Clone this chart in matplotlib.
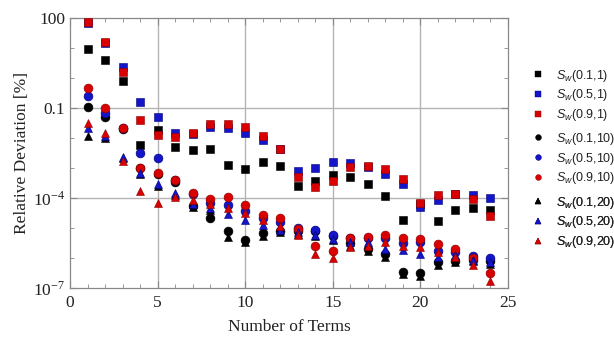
import matplotlib
matplotlib.use("Agg")
import matplotlib.pyplot as plt
from matplotlib.ticker import FixedLocator, NullFormatter
from matplotlib.lines import Line2D
import numpy as np

plt.rcParams["font.family"] = ["Liberation Serif", "DejaVu Serif"]
plt.rcParams["mathtext.fontset"] = "custom"
plt.rcParams["mathtext.rm"] = "Liberation Serif"
plt.rcParams["mathtext.it"] = "Liberation Sans:italic"
plt.rcParams["mathtext.sf"] = "Liberation Sans"

# number of terms
terms = np.arange(1, 25)

# Sw(a, 1) -- squares
sq_01 = [9.5, 3.9, 0.83, 0.0058, 0.019, 0.0051, 0.0040, 0.0042, 0.0013, 0.00093,
         0.00155, 0.00115, 0.00026, 0.00036, 0.0006, 0.0005, 0.0003, 1.15e-4,
         1.86e-5, 6.3e-5, 1.66e-5, 4.0e-5, 4.8e-5, 4.0e-5]
sq_05 = [72, 15.5, 2.45, 0.155, 0.052, 0.0148, 0.0141, 0.023, 0.021, 0.0148,
         0.0087, 0.0043, 0.00078, 0.001, 0.00155, 0.00148, 0.00112, 0.00063,
         0.0003, 5.0e-5, 8.7e-5, 1.32e-4, 1.29e-4, 1.0e-4]
sq_09 = [76, 15.8, 1.66, 0.039, 0.0126, 0.0107, 0.0148, 0.0295, 0.0295, 0.023,
         0.012, 0.0043, 0.00052, 0.00023, 0.00038, 0.00105, 0.0012, 0.00093,
         0.00044, 7.1e-5, 1.23e-4, 1.38e-4, 9.5e-5, 2.45e-5]

# Sw(a, 10) -- circles
ci_01 = [0.107, 0.049, 0.02, 0.001, 0.00063, 0.00035, 5.6e-5, 2.24e-5, 7.8e-6, 4.1e-6,
         6.8e-6, 7.8e-6, 7.9e-6, 7.9e-6, 5.6e-6, 3.2e-6, 1.95e-6, 1.38e-6,
         3.4e-7, 3.2e-7, 7.4e-7, 7.8e-7, 8.9e-7, 7.9e-7]
ci_05 = [0.26, 0.068, 0.021, 0.0032, 0.0022, 0.0004, 1.32e-4, 7.1e-5, 6.0e-5, 3.6e-5,
         2.24e-5, 1.58e-5, 1.0e-5, 8.7e-6, 5.9e-6, 4.7e-6, 4.5e-6, 4.5e-6,
         3.2e-6, 3.5e-6, 1.78e-6, 1.58e-6, 1.17e-6, 1.0e-6]
ci_09 = [0.47, 0.1, 0.021, 0.00102, 0.00069, 0.0004, 1.48e-4, 9.3e-5, 1.07e-4, 6.0e-5,
         2.75e-5, 2.14e-5, 9.3e-6, 2.57e-6, 1.78e-6, 4.7e-6, 5.0e-6, 6.0e-6,
         4.7e-6, 4.2e-6, 2.9e-6, 2.0e-6, 1.0e-6, 3.2e-7]

# Sw(a, 20) -- triangles
tr_01 = [0.0115, 0.0102, 0.0021, 0.00063, 0.00025, 1.26e-4, 5.2e-5, 4.0e-5, 5.2e-6, 3.3e-6,
         5.6e-6, 7.1e-6, 6.3e-6, 5.6e-6, 4.0e-6, 2.5e-6, 1.78e-6, 1.07e-6,
         3.0e-7, 2.6e-7, 5.8e-7, 7.1e-7, 7.9e-7, 6.3e-7]
tr_05 = [0.021, 0.012, 0.0024, 0.00071, 0.0003, 1.48e-4, 6.3e-5, 4.5e-5, 2.95e-5, 1.9e-5,
         1.29e-5, 8.7e-6, 7.2e-6, 6.0e-6, 4.3e-6, 3.4e-6, 3.4e-6, 2.0e-6,
         1.82e-6, 1.38e-6, 1.07e-6, 1.26e-6, 8.3e-7, 7.4e-7]
tr_09 = [0.032, 0.0148, 0.0017, 1.66e-4, 6.8e-5, 1.05e-4, 8.3e-5, 6.3e-5, 4.7e-5, 3.2e-5,
         1.9e-5, 1.15e-5, 6.0e-6, 1.38e-6, 1.0e-6, 2.34e-6, 2.6e-6, 3.4e-6,
         2.5e-6, 2.34e-6, 1.58e-6, 1.07e-6, 5.8e-7, 1.66e-7]

labels_sq = ["0.1,1", "0.5,1", "0.9,1"]
labels_ci = ["0.1,10", "0.5,10", "0.9,10"]
labels_tr = ["0.1,20", "0.5,20", "0.9,20"]

colors = ["#000000", "#1414c8", "#d80000"]
edges = ["#000000", "#00007a", "#8a0000"]

fig = plt.figure(figsize=(6.14, 3.38), dpi=100)
ax = fig.add_axes([0.114, 0.148, 0.713, 0.798])

groups = [
    ([sq_01, sq_05, sq_09], "s", 5.6, labels_sq),
    ([ci_01, ci_05, ci_09], "o", 6.4, labels_ci),
    ([tr_01, tr_05, tr_09], "^", 6.2, labels_tr),
]

for series, mk, ms, labs in groups:
    for vals, c, ec in zip(series, colors, edges):
        ax.plot(terms, vals, linestyle="none", marker=mk, ms=ms,
                color=c, mec=ec, mew=0.4, zorder=3)

ax.set_yscale("log")
ax.set_xlim(0, 25)
ax.set_ylim(1e-7, 100)

ax.xaxis.set_major_locator(FixedLocator([0, 5, 10, 15, 20, 25]))
ax.xaxis.set_minor_locator(FixedLocator(np.arange(0, 26)))
ax.yaxis.set_major_locator(FixedLocator([1e-7, 1e-4, 0.1, 100]))
ax.yaxis.set_minor_locator(FixedLocator([10.0 ** k for k in range(-7, 3)]))
ax.yaxis.set_minor_formatter(NullFormatter())
ax.set_yticklabels([r"$10^{-7}$", r"$10^{-4}$", "0.1", "100"])
ax.set_xticklabels(["0", "5", "10", "15", "20", "25"])

ax.tick_params(which="both", direction="in", top=True, right=True,
               color="#888888", labelsize=12.5, labelcolor="#222222")
ax.tick_params(which="major", length=5, width=0.8)
ax.tick_params(which="minor", length=3, width=0.6)
ax.tick_params(axis="x", pad=5)
for sp in ax.spines.values():
    sp.set_color("#888888")
    sp.set_linewidth(0.9)

for gx in [5, 10, 15, 20]:
    ax.axvline(gx, color="#b4b4b4", lw=1.0, zorder=1)
for gy in [1e-4, 0.1]:
    ax.axhline(gy, color="#b4b4b4", lw=1.0, zorder=1)

ax.set_xlabel("Number of Terms", fontsize=12.5, color="#222222", labelpad=6)
ax.set_ylabel("Relative Deviation [%]", fontsize=12.5, color="#222222", labelpad=2)

# three legend blocks on the right
anchors = [0.826, 0.592, 0.355]
for (series, mk, ms, labs), ya in zip(groups, anchors):
    handles = [Line2D([], [], linestyle="none", marker=mk, ms=4.2, color=c, mec=ec, mew=0.3)
               for c, ec in zip(colors, edges)]
    texts = [r"$S_w$" + "(" + l + ")" for l in labs]
    leg = ax.legend(handles, texts, loc="upper left", bbox_to_anchor=(1.05, ya),
                    frameon=False, prop={"family": "Liberation Sans", "size": 9},
                    handlelength=1.0, handletextpad=0.9, labelspacing=0.3,
                    borderaxespad=0.0, borderpad=0.2)
    for t in leg.get_texts():
        t.set_color("#222222")
    ax.add_artist(leg)

fig.savefig("out.png", dpi=100)
